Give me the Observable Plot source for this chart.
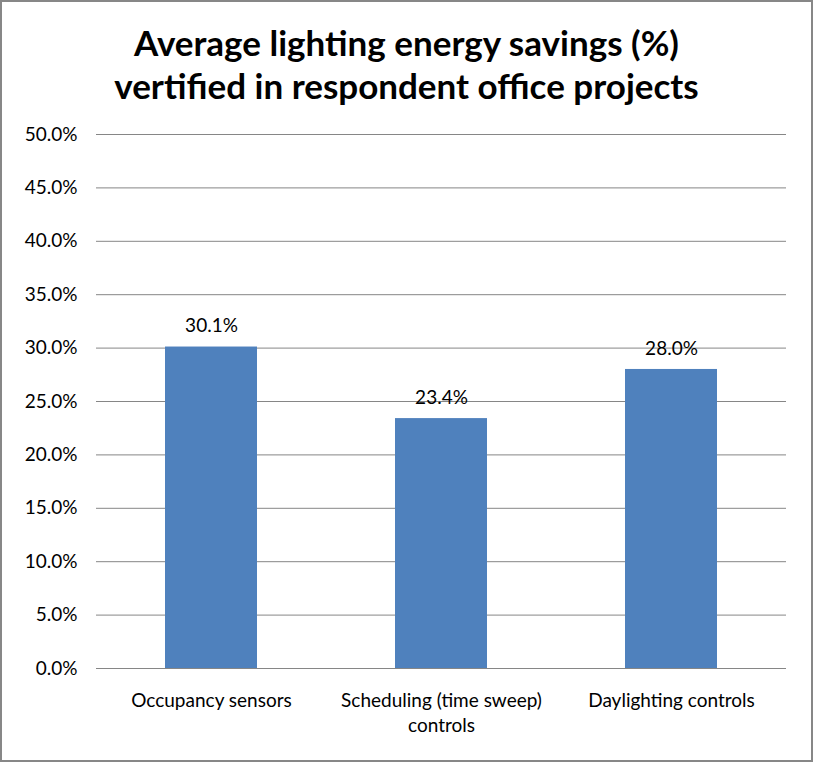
<!DOCTYPE html>
<html>
<head>
<meta charset="utf-8">
<script src="https://cdn.jsdelivr.net/npm/d3@7"></script>
<script src="https://cdn.jsdelivr.net/npm/@observablehq/plot@0.6"></script>
<style>
  html, body { margin: 0; padding: 0; background: #fff; }
  #chart { position: relative; width: 813px; height: 762px; overflow: hidden; font-family: Lato, "Open Sans", sans-serif; }
  #frame { position: absolute; left: 0; top: 0; width: 813px; height: 762px; box-sizing: border-box; border: 2px solid #878787; pointer-events: none; }
  #title { height: 110px; box-sizing: border-box; padding-top: 21px; text-align: center; font-weight: bold; font-size: 35px; line-height: 43px; color: #000; }
  #chart svg { display: block; }
</style>
</head>
<body>
<div id="chart">
  <div id="title">Average lighting energy savings (%)<br>vertified in respondent office projects</div>
  <div id="frame"></div>
</div>
<script>
// Lighting control strategies and their average verified savings (fraction)
const categories = ["Occupancy sensors", "Scheduling (time sweep)\ncontrols", "Daylighting controls"];
const savings = [0.301, 0.234, 0.280];
const yTicks = [0, 0.05, 0.10, 0.15, 0.20, 0.25, 0.30, 0.35, 0.40, 0.45, 0.50];

const data = categories.map((c, i) => ({category: c, value: savings[i]}));

const plot = Plot.plot({
  width: 813,
  height: 652,
  marginTop: 24,
  marginBottom: 94,
  marginLeft: 96,
  marginRight: 27,
  style: {fontFamily: "Lato, 'Open Sans', sans-serif", fontSize: "19px", color: "#000", background: "transparent"},
  x: {domain: categories, paddingInner: 0.6, paddingOuter: 0.3, label: null},
  y: {domain: [0, 0.5], label: null},
  marks: [
    Plot.gridY(yTicks, {stroke: "#868686", strokeOpacity: 1, strokeWidth: 1}),
    Plot.ruleX([0], {frameAnchor: "left", stroke: "#868686"}),
    Plot.barY(data, {x: "category", y: "value", fill: "#4F81BD"}),
    Plot.ruleY([0], {stroke: "#868686"}),
    Plot.text(data, {x: "category", y: "value", text: d => d3.format(".1%")(d.value), dy: -21, fill: "#000", fontSize: 19}),
    Plot.axisY(yTicks, {tickFormat: d3.format(".1%"), tickSize: 0, tickPadding: 19, fontSize: 19, fill: "#000"}),
    Plot.axisX({tickSize: 0, tickPadding: 21, fontSize: 19, fill: "#000", lineHeight: 1.3})
  ]
});
document.getElementById("chart").insertBefore(plot, document.getElementById("frame"));
</script>
</body>
</html>
